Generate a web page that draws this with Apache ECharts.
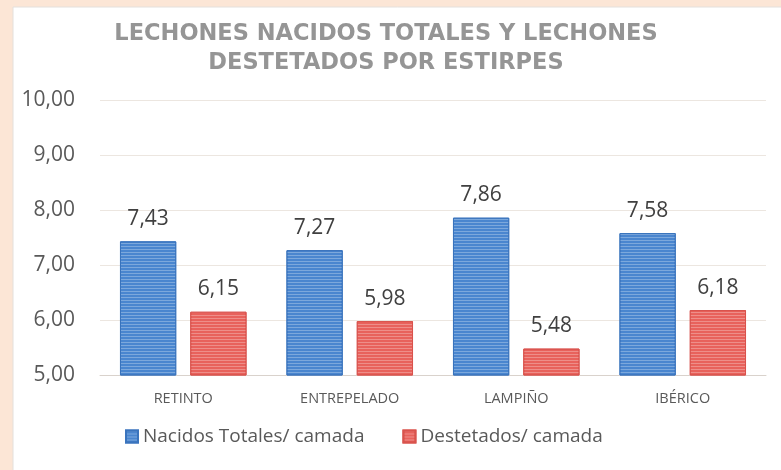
<!DOCTYPE html>
<html>
<head>
<meta charset="utf-8">
<script src="https://cdn.jsdelivr.net/npm/echarts@6/dist/echarts.min.js"></script>
<style>
  html, body { margin: 0; padding: 0; background: #fce6d6; }
  #chart { width: 781px; height: 470px; }
</style>
</head>
<body>
<div id="chart"></div>
<script>
const categories = ['RETINTO', 'ENTREPELADO', 'LAMPIÑO', 'IBÉRICO']
const nacidos = [7.43, 7.27, 7.86, 7.58]
const destetados = [6.15, 5.98, 5.48, 6.18]
const yTicks = [5, 6, 7, 8, 9, 10]

const fmt = v => v.toFixed(2).replace('.', ',')
const font = '"Open Sans", "Noto Sans", sans-serif'

// rayas horizontales de las barras
const stripes = {
  symbol: 'rect',
  symbolSize: 1,
  dashArrayX: [1, 0],
  dashArrayY: [1, 2],
  color: 'rgba(255,255,255,0.28)'
}

const chart = echarts.init(document.getElementById('chart'))
chart.setOption({
  backgroundColor: '#fce6d6',
  animation: false,
  graphic: [{
    type: 'rect',
    z: -10,
    shape: { x: 13, y: 7, width: 770, height: 465 },
    style: { fill: '#ffffff', stroke: '#e4e0dc', lineWidth: 1 }
  }],
  title: {
    text: 'LECHONES NACIDOS TOTALES Y LECHONES\nDESTETADOS POR ESTIRPES',
    left: 381,
    textAlign: 'center',
    top: 15,
    textStyle: {
      fontFamily: '"DejaVu Sans", sans-serif',
      fontSize: 22.5,
      fontWeight: 'bold',
      color: '#959595',
      lineHeight: 29
    }
  },
  legend: {
    bottom: 19,
    left: 120,
    itemWidth: 12,
    itemHeight: 12,
    itemGap: 38,
    icon: 'rect',
    textStyle: { fontFamily: font, fontSize: 19, color: '#595959' },
    data: ['Nacidos Totales/ camada', 'Destetados/ camada']
  },
  grid: { left: 100, right: 15, top: 100, bottom: 95 },
  xAxis: {
    type: 'category',
    data: categories,
    axisTick: { show: false },
    axisLine: { lineStyle: { color: '#d9d2cc', width: 1 } },
    axisLabel: { fontFamily: font, fontSize: 14.5, color: '#595959', margin: 16 }
  },
  yAxis: {
    type: 'value',
    min: yTicks[0],
    max: yTicks[yTicks.length - 1],
    interval: 1,
    axisLabel: {
      fontFamily: font, fontSize: 21, color: '#595959', margin: 25,
      formatter: v => fmt(v)
    },
    splitLine: { lineStyle: { color: '#ece6e0', width: 1 } }
  },
  series: [{
    name: 'Nacidos Totales/ camada',
    type: 'bar',
    data: nacidos,
    barGap: '25%',
    barCategoryGap: '24%',
    itemStyle: { color: '#4a86cf', borderColor: '#3a74bd', borderWidth: 1, decal: stripes },
    label: {
      show: true, position: 'top', distance: 12,
      fontFamily: font, fontSize: 21, color: '#404040',
      formatter: p => fmt(p.value)
    }
  }, {
    name: 'Destetados/ camada',
    type: 'bar',
    data: destetados,
    itemStyle: { color: '#e8625c', borderColor: '#d9534d', borderWidth: 1, decal: stripes },
    label: {
      show: true, position: 'top', distance: 12,
      fontFamily: font, fontSize: 21, color: '#404040',
      formatter: p => fmt(p.value)
    }
  }]
})
</script>
</body>
</html>
